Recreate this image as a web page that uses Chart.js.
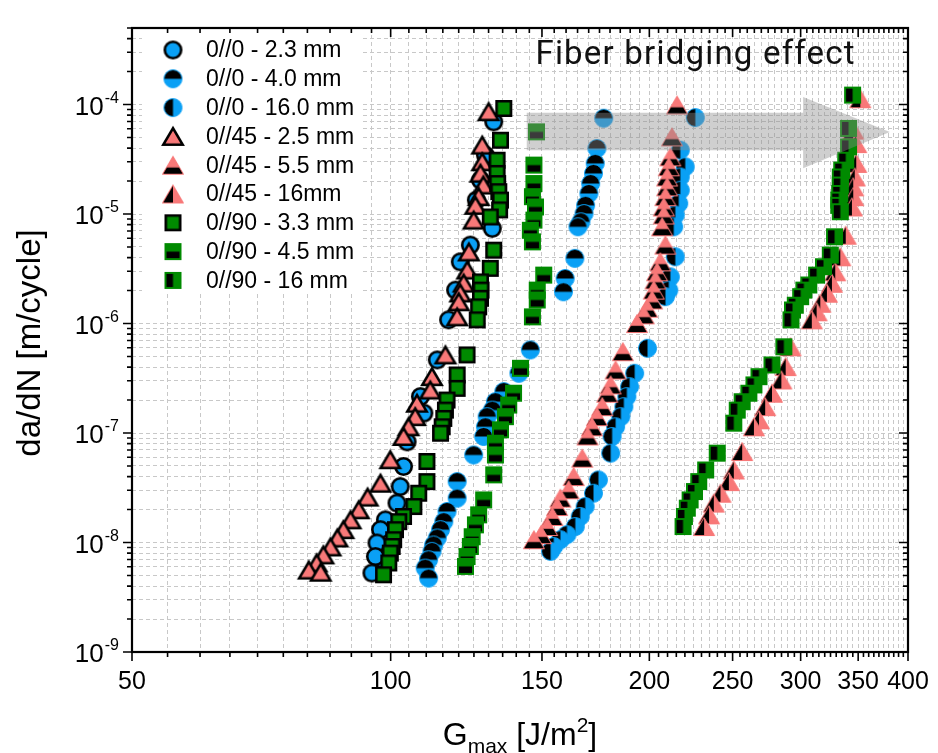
<!DOCTYPE html>
<html>
<head>
<meta charset="utf-8">
<script src="https://cdn.jsdelivr.net/npm/chart.js@4.4.0/dist/chart.umd.min.js"></script>
<style>
  html, body { margin: 0; padding: 0; background: #fff; }
  #wrap { width: 938px; height: 753px; }
</style>
</head>
<body>
<div id="wrap"><canvas id="chart" width="938" height="753"></canvas></div>
<script>
// series names, as in the legend
const seriesLabels = ['0//0 - 2.3 mm', '0//0 - 4.0 mm', '0//0 - 16.0 mm',
  '0//45 - 2.5 mm', '0//45 - 5.5 mm', '0//45 - 16mm',
  '0//90 - 3.3 mm', '0//90 - 4.5 mm', '0//90 - 16 mm'];

// G_max [J/m2] and da/dN [m/cycle]
const g00_23 = [131.8, 128.9, 127.2, 125.8, 131.3, 123.8, 120.5, 119.0, 116.8,
  113.3, 108.3, 109.3, 104.5, 103.5, 102.6, 101.7, 98.6, 97.3, 96.4, 98.1, 96.0, 95.1];
const r00_23 = [6.95e-5, 3.45e-5, 2.04e-5, 1.34e-5, 7.4e-6, 5.2e-6, 3.66e-6, 2.02e-6, 1.08e-6,
  4.65e-7, 2.15e-7, 1.52e-7, 8.3e-8, 4.95e-8, 3.24e-8, 2.29e-8, 1.61e-8, 1.31e-8, 9.9e-9, 6.95e-9, 7.45e-9, 5.26e-9];

const g00_40 = [177.0, 173.8, 173.0, 172.2, 170.9, 170.1, 168.6, 167.9, 166.5, 165.2, 163.8, 159.6, 158.9,
  145.4, 141.0, 135.4, 132.4, 131.3, 129.5, 128.9, 128.3, 124.9, 119.5, 119.5, 116.3, 115.3, 114.3, 113.3,
  112.2, 111.7, 110.7, 109.7, 110.7];
const r00_40 = [7.5e-5, 3.97e-5, 2.9e-5, 2.35e-5, 1.9e-5, 1.54e-5, 1.2e-5, 1.01e-5, 8.5e-6, 7.65e-6, 3.94e-6, 2.58e-6, 1.95e-6,
  5.74e-7, 3.51e-7, 2.39e-7, 1.93e-7, 1.62e-7, 1.41e-7, 1.14e-7, 9.3e-8, 6.3e-8, 3.6e-8, 2.54e-8, 1.92e-8, 1.55e-8, 1.31e-8, 1.1e-8,
  9.5e-9, 8.3e-9, 6.95e-9, 5.84e-9, 4.73e-9];

const g00_160 = [226.2, 217.3, 220.2, 217.3, 217.3, 216.4, 214.4, 213.5, 214.4, 211.6, 210.7, 208.8,
  199.0, 192.3, 189.7, 188.3, 186.8, 185.3, 182.7, 181.0, 180.3, 174.5, 172.2, 168.4, 166.2, 164.0, 160.4, 157.6, 154.8, 153.5];
const r00_160 = [7.6e-5, 3.83e-5, 2.7e-5, 2.18e-5, 1.65e-5, 1.25e-5, 9.8e-6, 7.65e-6, 4.07e-6, 2.67e-6, 2.02e-6, 1.76e-6,
  5.94e-7, 3.51e-7, 2.65e-7, 2.15e-7, 1.74e-7, 1.41e-7, 1.14e-7, 9.3e-8, 6.55e-8, 3.73e-8, 2.82e-8, 2.13e-8, 1.73e-8, 1.4e-8, 1.18e-8, 1.06e-8, 9.2e-9, 8.3e-9];

const g45_25 = [130.0, 127.8, 127.8, 127.2, 128.2, 126.6, 125.5, 124.9, 123.3, 122.8, 121.6, 120.5, 120.0, 119.5,
  115.8, 111.7, 111.2, 107.3, 106.8, 104.9, 103.5, 99.9, 97.3, 94.0, 91.8, 89.8, 88.1, 86.7, 85.1, 83.5, 82.0, 80.3, 82.9];
const r45_25 = [8.6e-5, 4.26e-5, 3.0e-5, 2.36e-5, 1.84e-5, 1.44e-5, 1.2e-5, 8.8e-6, 4.5e-6, 3.08e-6, 2.34e-6, 1.9e-6, 1.58e-6, 1.15e-6,
  5.17e-7, 3.27e-7, 2.47e-7, 1.87e-7, 1.41e-7, 1.14e-7, 9.3e-8, 5.7e-8, 3.48e-8, 2.6e-8, 1.99e-8, 1.61e-8, 1.31e-8, 1.1e-8, 9.1e-9, 7.7e-9, 6.5e-9, 5.6e-9, 5.35e-9];

const g45_55 = [215.4, 212.5, 211.6, 210.7, 209.8, 209.8, 208.8, 207.9, 207.9, 207.0, 208.8, 206.0, 204.2, 203.3, 202.4, 201.5, 198.8, 197.0, 193.5,
  186.3, 182.7, 180.3, 178.7, 176.3, 173.8, 171.5, 169.5, 167.1, 163.3, 161.1, 157.6, 156.2, 154.2, 152.1, 149.6, 146.8];
const r45_55 = [9.9e-5, 5.06e-5, 3.33e-5, 2.7e-5, 2.18e-5, 1.77e-5, 1.44e-5, 1.16e-5, 9.8e-6, 7.65e-6, 5.2e-6, 3.66e-6, 2.97e-6, 2.5e-6, 2.02e-6, 1.64e-6, 1.38e-6, 1.2e-6, 1.0e-6,
  5.53e-7, 3.76e-7, 2.75e-7, 2.31e-7, 1.74e-7, 1.41e-7, 1.14e-7, 9.4e-8, 5.89e-8, 4.0e-8, 3.03e-8, 2.54e-8, 2.13e-8, 1.73e-8, 1.4e-8, 1.18e-8, 1.06e-8];

const g45_16 = [352, 345.4, 348.2, 348.2, 346.8, 345.4, 345.4, 344.2, 338.5, 333.6, 329.1, 326.2, 321.9, 316.2, 313.1, 309.1,
  292.0, 288.2, 284.9, 277.8, 272.8, 268.3, 264.7, 256.5, 250.8, 247.5, 242.0, 237.7, 234.7, 231.6];
const r45_16 = [1.13e-4, 5.84e-5, 4.4e-5, 2.9e-5, 2.18e-5, 1.77e-5, 1.44e-5, 1.16e-5, 6.4e-6, 4.07e-6, 2.97e-6, 2.33e-6, 1.89e-6, 1.53e-6, 1.28e-6, 1.08e-6,
  6.13e-7, 4.04e-7, 3.05e-7, 2.31e-7, 1.74e-7, 1.32e-7, 1.14e-7, 6.77e-8, 4.6e-8, 3.6e-8, 2.82e-8, 2.29e-8, 1.79e-8, 1.4e-8];

const g90_33 = [135.4, 134.2, 133.0, 133.0, 133.2, 133.6, 134.2, 133.9, 130.6, 131.8, 130.6, 127.2, 127.4, 127.2, 126.6, 126.1,
  122.7, 119.5, 119.5, 116.3, 115.8, 115.3, 114.8, 114.3, 110.2, 110.2, 107.8, 106.4, 103.5, 102.2, 101.3, 100.8, 100.4, 99.9, 99.5, 98.1];
const r90_33 = [9.2e-5, 4.72e-5, 3.1e-5, 2.35e-5, 1.9e-5, 1.6e-5, 1.34e-5, 1.09e-5, 9.4e-6, 4.68e-6, 3.19e-6, 2.4e-6, 2.02e-6, 1.7e-6, 1.42e-6, 1.08e-6,
  5.17e-7, 3.39e-7, 2.56e-7, 2.0e-7, 1.62e-7, 1.36e-7, 1.14e-7, 9.96e-8, 5.5e-8, 3.6e-8, 2.82e-8, 2.13e-8, 1.73e-8, 1.55e-8, 1.31e-8, 1.06e-8, 9.2e-9, 8.0e-9, 6.5e-9, 5.07e-9];

const g90_45 = [147.8, 146.8, 146.8, 146.2, 147.4, 146.8, 145.4, 146.2, 150.7, 148.1, 148.1, 146.2,
  141.6, 139.0, 137.2, 136.0, 134.2, 132.4, 132.4, 131.8, 128.3, 126.6, 125.5, 124.4, 123.8, 122.7, 122.2];
const r90_45 = [5.63e-5, 2.8e-5, 1.9e-5, 1.44e-5, 1.16e-5, 8.8e-6, 7.1e-6, 5.57e-6, 2.77e-6, 2.02e-6, 1.64e-6, 1.15e-6,
  3.9e-7, 2.31e-7, 1.8e-7, 1.41e-7, 1.07e-7, 8.07e-8, 6.3e-8, 4.15e-8, 2.45e-8, 1.79e-8, 1.45e-8, 1.13e-8, 9.2e-9, 7.45e-9, 6.05e-9];

const g90_16 = [344.8, 341.1, 341.1, 338.5, 334.9, 333.6, 333.6, 333.1, 332.3, 332.3, 333.6, 328.5, 324.8, 318.9, 313.1, 306.6, 302.6, 300, 295.7, 293.5, 292.3,
  286.8, 277.8, 268.3, 264.7, 261.1, 256.5, 253.1, 250.8, 239.9, 232.6, 228.3, 225.7, 223.1, 221.4, 219.7, 218.9];
const r90_16 = [1.22e-4, 6.05e-5, 4.1e-5, 3.1e-5, 2.52e-5, 2.18e-5, 1.84e-5, 1.54e-5, 1.34e-5, 1.2e-5, 1.05e-5, 6.2e-6, 4.22e-6, 3.3e-6, 2.77e-6, 2.25e-6, 2.02e-6, 1.76e-6, 1.47e-6, 1.33e-6, 1.08e-6,
  6.13e-7, 4.18e-7, 3.27e-7, 2.75e-7, 2.31e-7, 1.93e-7, 1.62e-7, 1.23e-7, 6.55e-8, 4.6e-8, 3.6e-8, 2.92e-8, 2.45e-8, 2.06e-8, 1.73e-8, 1.4e-8];

// axis ticks
const xTickLabels = [50, 100, 150, 200, 250, 300, 350, 400];
const yTickExponents = [-9, -8, -7, -6, -5, -4];
const xMin = 50, xMax = 400, yMin = 1e-9, yMax = 5e-4;

// annotation arrow, in data units
const arrowG = [144, 302, 381];
const arrowRate = [8.4e-5, 3.83e-5, 1.17e-4, 2.62e-5, 5.6e-5];

const BLUE = '#0aa0f5', PINK = '#f87878', GREEN = '#008a00';
const FONT = '"Liberation Sans", Arial, sans-serif';

const xTicks = [];
for (let v = xMin; v <= xMax; v += 5) xTicks.push(v);
const yTicks = [];
for (let e = -9; e <= -4; e++) for (let m = 1; m <= 9; m++) {
  const v = m * Math.pow(10, e);
  if (v <= yMax * 1.0001) yTicks.push({ v, major: m === 1 });
}

// marker images (Origin style half filled symbols)
function marker(shape, fill, half, edge, edgeW, w, h) {
  const c = document.createElement('canvas');
  c.width = Math.ceil(w) + 4; c.height = Math.ceil(h) + 4;
  const ctx = c.getContext('2d');
  const cx = c.width / 2, cy = c.height / 2, k = edgeW / 2;
  const path = () => {
    ctx.beginPath();
    if (shape === 'circle') ctx.arc(cx, cy, w / 2 - k, 0, Math.PI * 2);
    else if (shape === 'triangle') {
      ctx.moveTo(cx, cy - h / 2 + k);
      ctx.lineTo(cx + w / 2 - k, cy + h / 2 - k);
      ctx.lineTo(cx - w / 2 + k, cy + h / 2 - k);
      ctx.closePath();
    } else ctx.rect(cx - w / 2 + k, cy - h / 2 + k, w - edgeW, h - edgeW);
  };
  path(); ctx.fillStyle = fill; ctx.fill();
  if (half) {
    ctx.save(); path(); ctx.clip();
    ctx.fillStyle = '#000';
    if (half === 'top') ctx.fillRect(0, 0, c.width, cy);
    if (half === 'bottom') ctx.fillRect(0, cy + (shape === 'triangle' ? h * 0.12 : 0), c.width, c.height);
    if (half === 'left') ctx.fillRect(0, 0, cx, c.height);
    ctx.restore();
  }
  ctx.lineJoin = 'miter';
  path(); ctx.lineWidth = edgeW; ctx.strokeStyle = edge; ctx.stroke();
  return c;
}

const markers = [
  marker('circle', BLUE, null, '#000', 2.6, 19, 19),
  marker('circle', BLUE, 'top', BLUE, 1, 19, 19),
  marker('circle', BLUE, 'left', BLUE, 1, 19, 19),
  marker('triangle', PINK, null, '#000', 2.5, 22, 19),
  marker('triangle', PINK, 'bottom', PINK, 1, 22, 19),
  marker('triangle', PINK, 'left', PINK, 1, 22, 19),
  marker('square', GREEN, null, '#000', 2.6, 17, 17),
  marker('square', GREEN, 'bottom', GREEN, 2, 17, 17),
  marker('square', GREEN, 'left', GREEN, 2, 17, 17)
];

const seriesG = [g00_23, g00_40, g00_160, g45_25, g45_55, g45_16, g90_33, g90_45, g90_16];
const seriesR = [r00_23, r00_40, r00_160, r45_25, r45_55, r45_16, r90_33, r90_45, r90_16];

const datasets = seriesLabels.map((label, i) => ({
  label,
  data: seriesG[i].map((g, j) => ({ x: g, y: seriesR[i][j] })),
  pointStyle: markers[i],
  pointRadius: 9,
  showLine: false,
  order: 9 - i
}));

const legendBox = {
  id: 'legendBox',
  beforeDatasetsDraw(chart) {
    const { ctx } = chart;
    ctx.save();
    ctx.fillStyle = '#fff';
    ctx.fillRect(142, 30, 220, 264);
    ctx.restore();
  },
  afterDatasetsDraw(chart) {
    const { ctx } = chart;
    ctx.save();
    ctx.font = '23px ' + FONT;
    ctx.fillStyle = '#000';
    ctx.textBaseline = 'middle';
    seriesLabels.forEach((lab, i) => {
      const yy = 50 + i * 28.8;
      const m = markers[i];
      ctx.drawImage(m, 173 - m.width / 2, yy - m.height / 2);
      ctx.fillText(lab, 206, yy + 1);
    });
    ctx.restore();
  }
};

const arrowPlugin = {
  id: 'arrow',
  afterDatasetsDraw(chart) {
    const { ctx, scales: { x, y } } = chart;
    const X = v => x.getPixelForValue(v), Y = v => y.getPixelForValue(v);
    ctx.save();
    ctx.fillStyle = 'rgba(140,140,140,0.42)';
    ctx.beginPath();
    ctx.moveTo(X(arrowG[0]), Y(arrowRate[0]));
    ctx.lineTo(X(arrowG[1]), Y(arrowRate[0]));
    ctx.lineTo(X(arrowG[1]), Y(arrowRate[2]));
    ctx.lineTo(X(arrowG[2]), Y(arrowRate[4]));
    ctx.lineTo(X(arrowG[1]), Y(arrowRate[3]));
    ctx.lineTo(X(arrowG[1]), Y(arrowRate[1]));
    ctx.lineTo(X(arrowG[0]), Y(arrowRate[1]));
    ctx.closePath();
    ctx.fill();
    ctx.fillStyle = '#111';
    ctx.font = '33px Roboto, sans-serif';
    ctx.letterSpacing = '1.2px';
    ctx.textBaseline = 'alphabetic';
    ctx.fillText('Fiber bridging effect', X(147.4), 64);
    ctx.restore();
  }
};

const framePlugin = {
  id: 'frame',
  afterDraw(chart) {
    const { ctx, chartArea: a, scales: { x, y } } = chart;
    ctx.save();
    ctx.strokeStyle = '#000';
    ctx.lineWidth = 1.6;
    ctx.beginPath();
    xTicks.forEach(v => {
      const px = x.getPixelForValue(v);
      const len = xTickLabels.includes(v) ? 9 : 5;
      ctx.moveTo(px, a.bottom); ctx.lineTo(px, a.bottom + len);
      ctx.moveTo(px, a.top); ctx.lineTo(px, a.top + len);
    });
    yTicks.forEach(t => {
      const py = y.getPixelForValue(t.v);
      const len = t.major ? 9 : 5;
      ctx.moveTo(a.left, py); ctx.lineTo(a.left - len, py);
      ctx.moveTo(a.right, py); ctx.lineTo(a.right - len, py);
    });
    ctx.stroke();
    ctx.lineWidth = 2.2;
    ctx.strokeRect(a.left, a.top, a.right - a.left, a.bottom - a.top);

    // tick labels
    ctx.fillStyle = '#000';
    ctx.font = '25px ' + FONT;
    ctx.textAlign = 'center';
    ctx.textBaseline = 'alphabetic';
    xTickLabels.forEach(v => ctx.fillText(String(v), x.getPixelForValue(v), a.bottom + 37));
    const xr = a.left - 13;
    yTickExponents.forEach(e => {
      const py = y.getPixelForValue(Math.pow(10, e));
      const sup = String(e);
      ctx.font = '16px ' + FONT;
      const sw = ctx.measureText(sup).width;
      ctx.textAlign = 'left';
      ctx.fillText(sup, xr - sw, py - 2);
      ctx.font = '26px ' + FONT;
      ctx.textAlign = 'right';
      ctx.fillText('10', xr - sw - 1, py + 10);
    });

    // axis titles
    ctx.font = '33px ' + FONT;
    ctx.save();
    ctx.translate(31, (a.top + a.bottom) / 2 + 3);
    ctx.rotate(-Math.PI / 2);
    ctx.textAlign = 'center';
    ctx.textBaseline = 'middle';
    ctx.fillText('da/dN [m/cycle]', 0, 0);
    ctx.restore();

    const parts = [['G', 32, 0], ['max', 21, 8], [' [J/m', 32, 0], ['2', 21, -13], [']', 32, 0]];
    let total = 0;
    parts.forEach(p => { ctx.font = p[1] + 'px ' + FONT; total += ctx.measureText(p[0]).width; });
    let cx = (a.left + a.right) / 2 - total / 2;
    ctx.textAlign = 'left';
    parts.forEach(p => {
      ctx.font = p[1] + 'px ' + FONT;
      ctx.fillText(p[0], cx, 745 + p[2]);
      cx += ctx.measureText(p[0]).width;
    });
    ctx.restore();
  }
};

new Chart(document.getElementById('chart'), {
  type: 'scatter',
  data: { datasets },
  options: {
    responsive: false,
    animation: false,
    layout: { padding: { left: 132, right: 30, top: 28, bottom: 101 } },
    plugins: { legend: { display: false }, tooltip: { enabled: false } },
    scales: {
      x: {
        type: 'logarithmic', min: xMin, max: xMax,
        afterBuildTicks: s => { s.ticks = xTicks.map(v => ({ value: v })); },
        ticks: { display: false },
        grid: { color: '#c8c8c8', lineWidth: 1, drawTicks: false },
        border: { display: false, dash: [4, 3] }
      },
      y: {
        type: 'logarithmic', min: yMin, max: yMax,
        afterBuildTicks: s => { s.ticks = yTicks.map(t => ({ value: t.v })); },
        ticks: { display: false },
        grid: { color: '#c8c8c8', lineWidth: 1, drawTicks: false },
        border: { display: false, dash: [4, 3] }
      }
    }
  },
  plugins: [legendBox, arrowPlugin, framePlugin]
});
</script>
</body>
</html>
